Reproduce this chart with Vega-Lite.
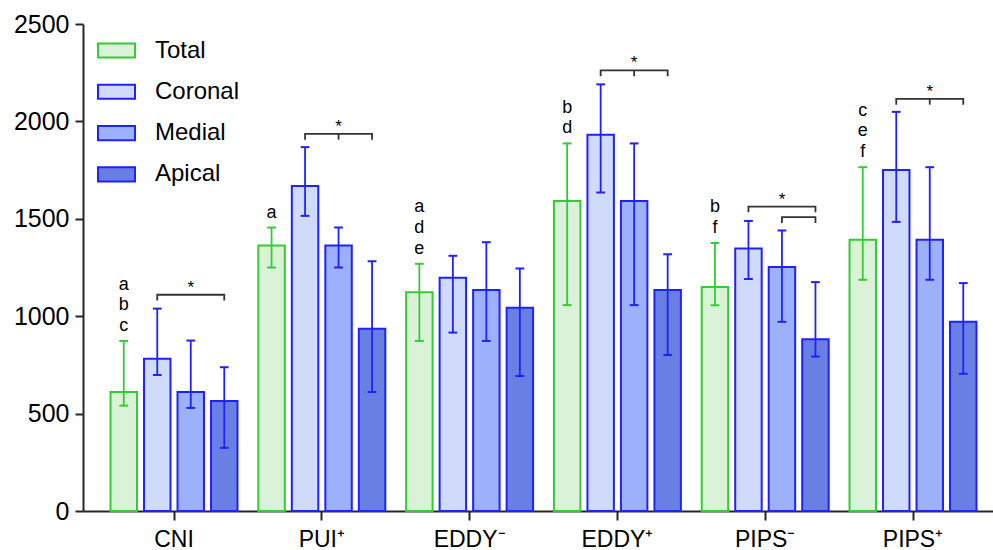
{
  "$schema": "https://vega.github.io/schema/vega-lite/v6.json",
  "autosize": {"type": "none"},
  "padding": {"left": 83, "top": 24, "right": 0, "bottom": 39},
  "width": 910,
  "height": 487,
  "background": "white",
  "config": {
    "view": {"stroke": null},
    "font": "Liberation Sans",
    "axis": {"labelFont": "Liberation Sans", "labelFontSize": 24, "labelColor": "#000000", "domainColor": "#262626", "domainWidth": 2, "tickColor": "#262626", "tickWidth": 2, "grid": false, "title": null},
    "legend": {"orient": "none", "legendX": 14, "legendY": 7, "padding": 0, "title": null, "symbolType": "M-1,-0.38H1V0.38H-1Z", "symbolSize": 1369, "symbolStrokeWidth": 2, "symbolOpacity": 1, "labelFont": "Liberation Sans", "labelFontSize": 24, "labelColor": "#000000", "labelOffset": 19, "rowPadding": 9.3}
  },
  "datasets": {
    "bars": [
      {"g": "CNI", "s": "Total", "v": 611, "lo": 541, "hi": 873},
      {"g": "CNI", "s": "Coronal", "v": 782, "lo": 698, "hi": 1039},
      {"g": "CNI", "s": "Medial", "v": 611, "lo": 529, "hi": 875},
      {"g": "CNI", "s": "Apical", "v": 565, "lo": 324, "hi": 738},
      {"g": "PUI⁺", "s": "Total", "v": 1363, "lo": 1250, "hi": 1455},
      {"g": "PUI⁺", "s": "Coronal", "v": 1669, "lo": 1515, "hi": 1868},
      {"g": "PUI⁺", "s": "Medial", "v": 1363, "lo": 1250, "hi": 1455},
      {"g": "PUI⁺", "s": "Apical", "v": 936, "lo": 611, "hi": 1282},
      {"g": "EDDY⁻", "s": "Total", "v": 1123, "lo": 873, "hi": 1269},
      {"g": "EDDY⁻", "s": "Coronal", "v": 1197, "lo": 916, "hi": 1310},
      {"g": "EDDY⁻", "s": "Medial", "v": 1134, "lo": 873, "hi": 1380},
      {"g": "EDDY⁻", "s": "Apical", "v": 1044, "lo": 693, "hi": 1245},
      {"g": "EDDY⁺", "s": "Total", "v": 1591, "lo": 1057, "hi": 1887},
      {"g": "EDDY⁺", "s": "Coronal", "v": 1931, "lo": 1635, "hi": 2190},
      {"g": "EDDY⁺", "s": "Medial", "v": 1591, "lo": 1057, "hi": 1887},
      {"g": "EDDY⁺", "s": "Apical", "v": 1135, "lo": 801, "hi": 1318},
      {"g": "PIPS⁻", "s": "Total", "v": 1150, "lo": 1056, "hi": 1376},
      {"g": "PIPS⁻", "s": "Coronal", "v": 1347, "lo": 1191, "hi": 1489},
      {"g": "PIPS⁻", "s": "Medial", "v": 1253, "lo": 971, "hi": 1440},
      {"g": "PIPS⁻", "s": "Apical", "v": 882, "lo": 793, "hi": 1175},
      {"g": "PIPS⁺", "s": "Total", "v": 1392, "lo": 1187, "hi": 1765},
      {"g": "PIPS⁺", "s": "Coronal", "v": 1751, "lo": 1484, "hi": 2049},
      {"g": "PIPS⁺", "s": "Medial", "v": 1392, "lo": 1187, "hi": 1765},
      {"g": "PIPS⁺", "s": "Apical", "v": 971, "lo": 704, "hi": 1170}
    ],
    "letters": [
      {"g": "CNI", "s": "Total", "t": "a", "y": 1137},
      {"g": "CNI", "s": "Total", "t": "b", "y": 1030},
      {"g": "CNI", "s": "Total", "t": "c", "y": 924},
      {"g": "PUI⁺", "s": "Total", "t": "a", "y": 1506},
      {"g": "EDDY⁻", "s": "Total", "t": "a", "y": 1533},
      {"g": "EDDY⁻", "s": "Total", "t": "d", "y": 1427},
      {"g": "EDDY⁻", "s": "Total", "t": "e", "y": 1320},
      {"g": "EDDY⁺", "s": "Total", "t": "b", "y": 2045},
      {"g": "EDDY⁺", "s": "Total", "t": "d", "y": 1938},
      {"g": "PIPS⁻", "s": "Total", "t": "b", "y": 1534},
      {"g": "PIPS⁻", "s": "Total", "t": "f", "y": 1427},
      {"g": "PIPS⁺", "s": "Total", "t": "c", "y": 2029},
      {"g": "PIPS⁺", "s": "Total", "t": "e", "y": 1923},
      {"g": "PIPS⁺", "s": "Total", "t": "f", "y": 1816}
    ],
    "brackets": [
      {"b": "c1", "g": "CNI", "s": "Coronal", "y": 1080, "o": 1},
      {"b": "c1", "g": "CNI", "s": "Coronal", "y": 1110, "o": 2},
      {"b": "c1", "g": "CNI", "s": "Apical", "y": 1110, "o": 3},
      {"b": "c1", "g": "CNI", "s": "Apical", "y": 1080, "o": 4},
      {"b": "p1", "g": "PUI⁺", "s": "Coronal", "y": 1906, "o": 1},
      {"b": "p1", "g": "PUI⁺", "s": "Coronal", "y": 1936, "o": 2},
      {"b": "p1", "g": "PUI⁺", "s": "Apical", "y": 1936, "o": 3},
      {"b": "p1", "g": "PUI⁺", "s": "Apical", "y": 1906, "o": 4},
      {"b": "p1m", "g": "PUI⁺", "s": "Medial", "y": 1936, "o": 1},
      {"b": "p1m", "g": "PUI⁺", "s": "Medial", "y": 1906, "o": 2},
      {"b": "e1", "g": "EDDY⁺", "s": "Coronal", "y": 2232, "o": 1},
      {"b": "e1", "g": "EDDY⁺", "s": "Coronal", "y": 2262, "o": 2},
      {"b": "e1", "g": "EDDY⁺", "s": "Apical", "y": 2262, "o": 3},
      {"b": "e1", "g": "EDDY⁺", "s": "Apical", "y": 2232, "o": 4},
      {"b": "e1m", "g": "EDDY⁺", "s": "Medial", "y": 2262, "o": 1},
      {"b": "e1m", "g": "EDDY⁺", "s": "Medial", "y": 2232, "o": 2},
      {"b": "q1", "g": "PIPS⁻", "s": "Coronal", "y": 1533, "o": 1},
      {"b": "q1", "g": "PIPS⁻", "s": "Coronal", "y": 1563, "o": 2},
      {"b": "q1", "g": "PIPS⁻", "s": "Apical", "y": 1563, "o": 3},
      {"b": "q1", "g": "PIPS⁻", "s": "Apical", "y": 1533, "o": 4},
      {"b": "q2", "g": "PIPS⁻", "s": "Medial", "y": 1479, "o": 1},
      {"b": "q2", "g": "PIPS⁻", "s": "Medial", "y": 1509, "o": 2},
      {"b": "q2", "g": "PIPS⁻", "s": "Apical", "y": 1509, "o": 3},
      {"b": "q2", "g": "PIPS⁻", "s": "Apical", "y": 1479, "o": 4},
      {"b": "r1", "g": "PIPS⁺", "s": "Coronal", "y": 2086, "o": 1},
      {"b": "r1", "g": "PIPS⁺", "s": "Coronal", "y": 2116, "o": 2},
      {"b": "r1", "g": "PIPS⁺", "s": "Apical", "y": 2116, "o": 3},
      {"b": "r1", "g": "PIPS⁺", "s": "Apical", "y": 2086, "o": 4},
      {"b": "r1m", "g": "PIPS⁺", "s": "Medial", "y": 2116, "o": 1},
      {"b": "r1m", "g": "PIPS⁺", "s": "Medial", "y": 2086, "o": 2}
    ],
    "stars": [
      {"g": "CNI", "s": "Medial", "y": 1110},
      {"g": "PUI⁺", "s": "Medial", "y": 1936},
      {"g": "EDDY⁺", "s": "Medial", "y": 2262},
      {"g": "PIPS⁻", "s": "Medial", "y": 1563},
      {"g": "PIPS⁺", "s": "Medial", "y": 2116}
    ]
  },
  "encoding": {
    "x": {"field": "g", "type": "nominal", "sort": ["CNI", "PUI⁺", "EDDY⁻", "EDDY⁺", "PIPS⁻", "PIPS⁺"],
      "scale": {"domain": ["CNI", "PUI⁺", "EDDY⁻", "EDDY⁺", "PIPS⁻", "PIPS⁺"], "paddingInner": 0.141, "paddingOuter": 0.149, "align": 0.625},
      "axis": {"labelAngle": 0, "tickSize": 9, "labelPadding": 8, "labelFontSize": 23}},
    "xOffset": {"field": "s", "type": "nominal", "scale": {"domain": ["Total", "Coronal", "Medial", "Apical"], "paddingInner": 0.21, "paddingOuter": 0}}
  },
  "layer": [
    {
      "data": {"name": "bars"},
      "mark": {"type": "bar", "strokeWidth": 2, "opacity": 1},
      "encoding": {
        "y": {"field": "v", "type": "quantitative", "scale": {"domain": [0, 2500], "nice": false}, "axis": {"values": [0, 500, 1000, 1500, 2000, 2500], "format": "d", "tickSize": 8, "labelPadding": 6, "labelFontSize": 25}},
        "fill": {"field": "s", "type": "nominal", "scale": {"domain": ["Total", "Coronal", "Medial", "Apical"], "range": ["#daf3d8", "#d0dbfb", "#9cb0fc", "#6a7fe4"]}},
        "stroke": {"field": "s", "type": "nominal", "scale": {"domain": ["Total", "Coronal", "Medial", "Apical"], "range": ["#33cc33", "#1f22ff", "#1f22ff", "#1f22ff"]}}
      }
    },
    {
      "data": {"name": "bars"},
      "mark": {"type": "rule", "strokeWidth": 1.8},
      "encoding": {
        "y": {"field": "lo", "type": "quantitative"},
        "y2": {"field": "hi"},
        "stroke": {"field": "s", "type": "nominal"}
      }
    },
    {
      "data": {"name": "bars"},
      "mark": {"type": "tick", "size": 7, "thickness": 0.2, "filled": false, "strokeWidth": 1.8, "opacity": 1},
      "encoding": {
        "y": {"field": "lo", "type": "quantitative"},
        "stroke": {"field": "s", "type": "nominal"}
      }
    },
    {
      "data": {"name": "bars"},
      "mark": {"type": "tick", "size": 7, "thickness": 0.2, "filled": false, "strokeWidth": 1.8, "opacity": 1},
      "encoding": {
        "y": {"field": "hi", "type": "quantitative"},
        "stroke": {"field": "s", "type": "nominal"}
      }
    },
    {
      "data": {"name": "letters"},
      "mark": {"type": "text", "font": "Liberation Sans", "fontSize": 18, "baseline": "alphabetic", "align": "center", "color": "#000000"},
      "encoding": {
        "y": {"field": "y", "type": "quantitative"},
        "text": {"field": "t"}
      }
    },
    {
      "data": {"name": "brackets"},
      "mark": {"type": "line", "color": "#333333", "strokeWidth": 1.8, "interpolate": "linear"},
      "encoding": {
        "y": {"field": "y", "type": "quantitative"},
        "detail": {"field": "b"},
        "order": {"field": "o", "type": "quantitative"}
      }
    },
    {
      "data": {"name": "stars"},
      "mark": {"type": "text", "text": "*", "font": "Liberation Sans", "fontSize": 17, "baseline": "alphabetic", "align": "center", "dy": -2, "color": "#000000"},
      "encoding": {
        "y": {"field": "y", "type": "quantitative"}
      }
    }
  ]
}
